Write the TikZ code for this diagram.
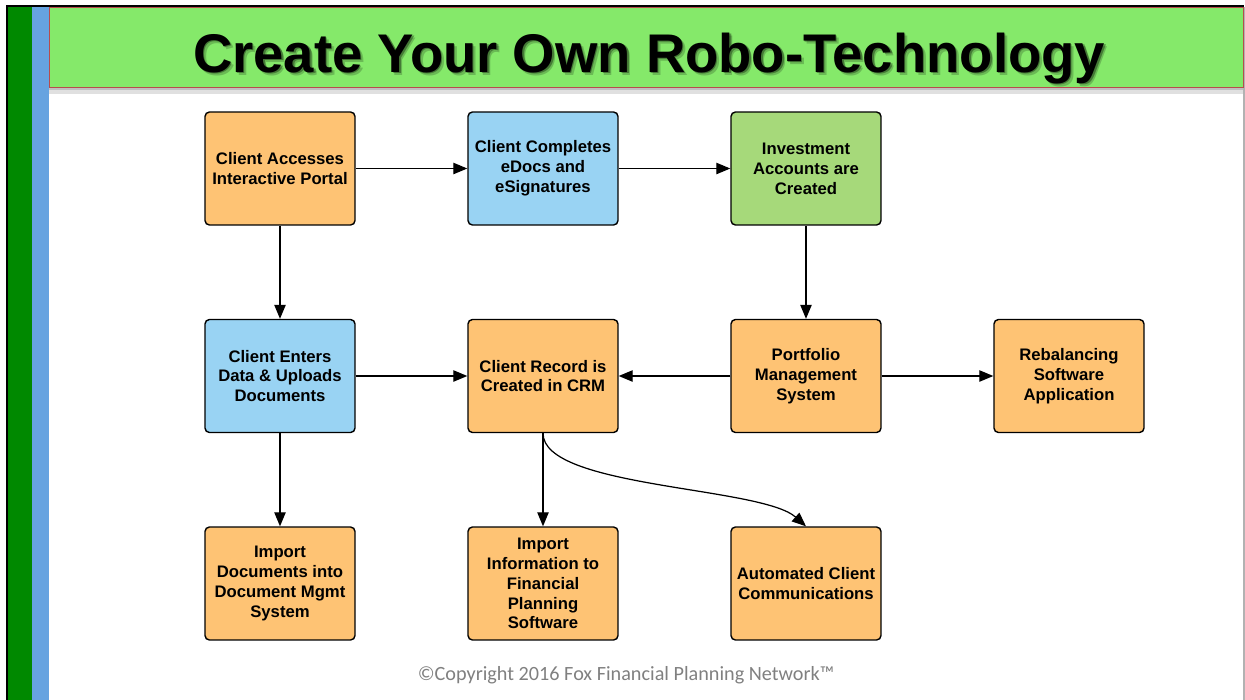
\documentclass[tikz,border=0pt]{standalone}
\usepackage{fontspec}
\setmainfont{Liberation Sans}
\newfontfamily\footfont{Carlito}
\usetikzlibrary{arrows.meta}

\definecolor{boxorange}{RGB}{254,195,116}
\definecolor{boxblue}{RGB}{153,211,243}
\definecolor{boxgreen}{RGB}{166,217,122}
\definecolor{bandgreen}{RGB}{133,233,106}
\definecolor{bargreen}{RGB}{0,137,0}
\definecolor{barblue}{RGB}{102,163,224}

\tikzset{
  stepbox/.style={draw=black, line width=0.8pt, rounded corners=2.5pt,
    minimum width=3cm, minimum height=2.26cm, align=center,
    font=\fontsize{9.5}{11.3}\selectfont\bfseries},
  link/.style={line width=0.7pt, -{Triangle[length=8pt, width=6.5pt]}},
  titletext/.style={anchor=base, font=\fontsize{31}{31}\selectfont\bfseries}
}

\begin{document}
\begin{tikzpicture}[x=0.02cm, y=-0.02cm]
			%%%%% START %%%%%
			
			\useasboundingbox (0, 0) rectangle (1245, 700);
			
			% frame and side bars
			\fill[black] (6, 5) rectangle (1244, 7);
			\fill[black] (6, 5) rectangle (8, 700);
			\fill[bargreen] (8, 7) rectangle (32, 700);
			\fill[barblue] (32, 7) rectangle (49, 700);
			\fill[black!30] (1243, 7) rectangle (1245, 700);
			
			% title band
			\fill[black!12] (49, 87) rectangle (1243, 94);
			\fill[black!25] (49, 87) rectangle (1243, 90);
			\draw[fill=bandgreen, draw=red!60!black!70] (49, 7) rectangle (1243, 87);
			\node[titletext, text=black, opacity=0.2] (titleshadowb) at (652, 75) {Create Your Own Robo-Technology};
			\node[titletext, text=black, opacity=0.35] (titleshadow) at (650.5, 73.5) {Create Your Own Robo-Technology};
			\node[titletext] (title) at (649, 72) {Create Your Own Robo-Technology};
			
			% first row
			\node[stepbox, fill=boxorange] (portal) at (280, 168.5) {Client Accesses\\Interactive Portal};
			\node[stepbox, fill=boxblue] (edocs) at (543, 168.5) {Client Completes\\eDocs and\\eSignatures};
			\node[stepbox, fill=boxgreen] (accounts) at (806, 168.5) {Investment\\Accounts are\\Created};
			
			% second row
			\node[stepbox, fill=boxblue] (enters) at (280, 376) {Client Enters\\Data \& Uploads\\Documents};
			\node[stepbox, fill=boxorange] (crm) at (543, 376) {Client Record is\\Created in CRM};
			\node[stepbox, fill=boxorange] (portfolio) at (806, 376) {Portfolio\\Management\\System};
			\node[stepbox, fill=boxorange] (rebal) at (1069, 376) {Rebalancing\\Software\\Application};
			
			% third row
			\node[stepbox, fill=boxorange] (docmgmt) at (280, 583.5) {Import\\Documents into\\Document Mgmt\\System};
			\node[stepbox, fill=boxorange] (planning) at (543, 583.5) {Import\\Information to\\Financial\\Planning\\Software};
			\node[stepbox, fill=boxorange] (comms) at (806, 583.5) {Automated Client\\Communications};
			
			% connectors
			\draw[link] (portal) -- (edocs);
			\draw[link] (edocs) -- (accounts);
			\draw[link] (portal) -- (enters);
			\draw[link] (accounts) -- (portfolio);
			\draw[link] (enters) -- (crm);
			\draw[link] (portfolio) -- (crm);
			\draw[link] (portfolio) -- (rebal);
			\draw[link] (enters) -- (docmgmt);
			\draw[link] (crm) -- (planning);
			\draw[link] (crm.south) .. controls +(0, 55) and +(-45, -40) .. (comms.north);
			
			% footer
			\node[text=black!50, font=\footfont\fontsize{11.5}{12}\selectfont] (copyright) at (626, 675) {©Copyright 2016 Fox Financial Planning Network™};
			
			%%%%% END %%%%%
\end{tikzpicture}
\end{document}
